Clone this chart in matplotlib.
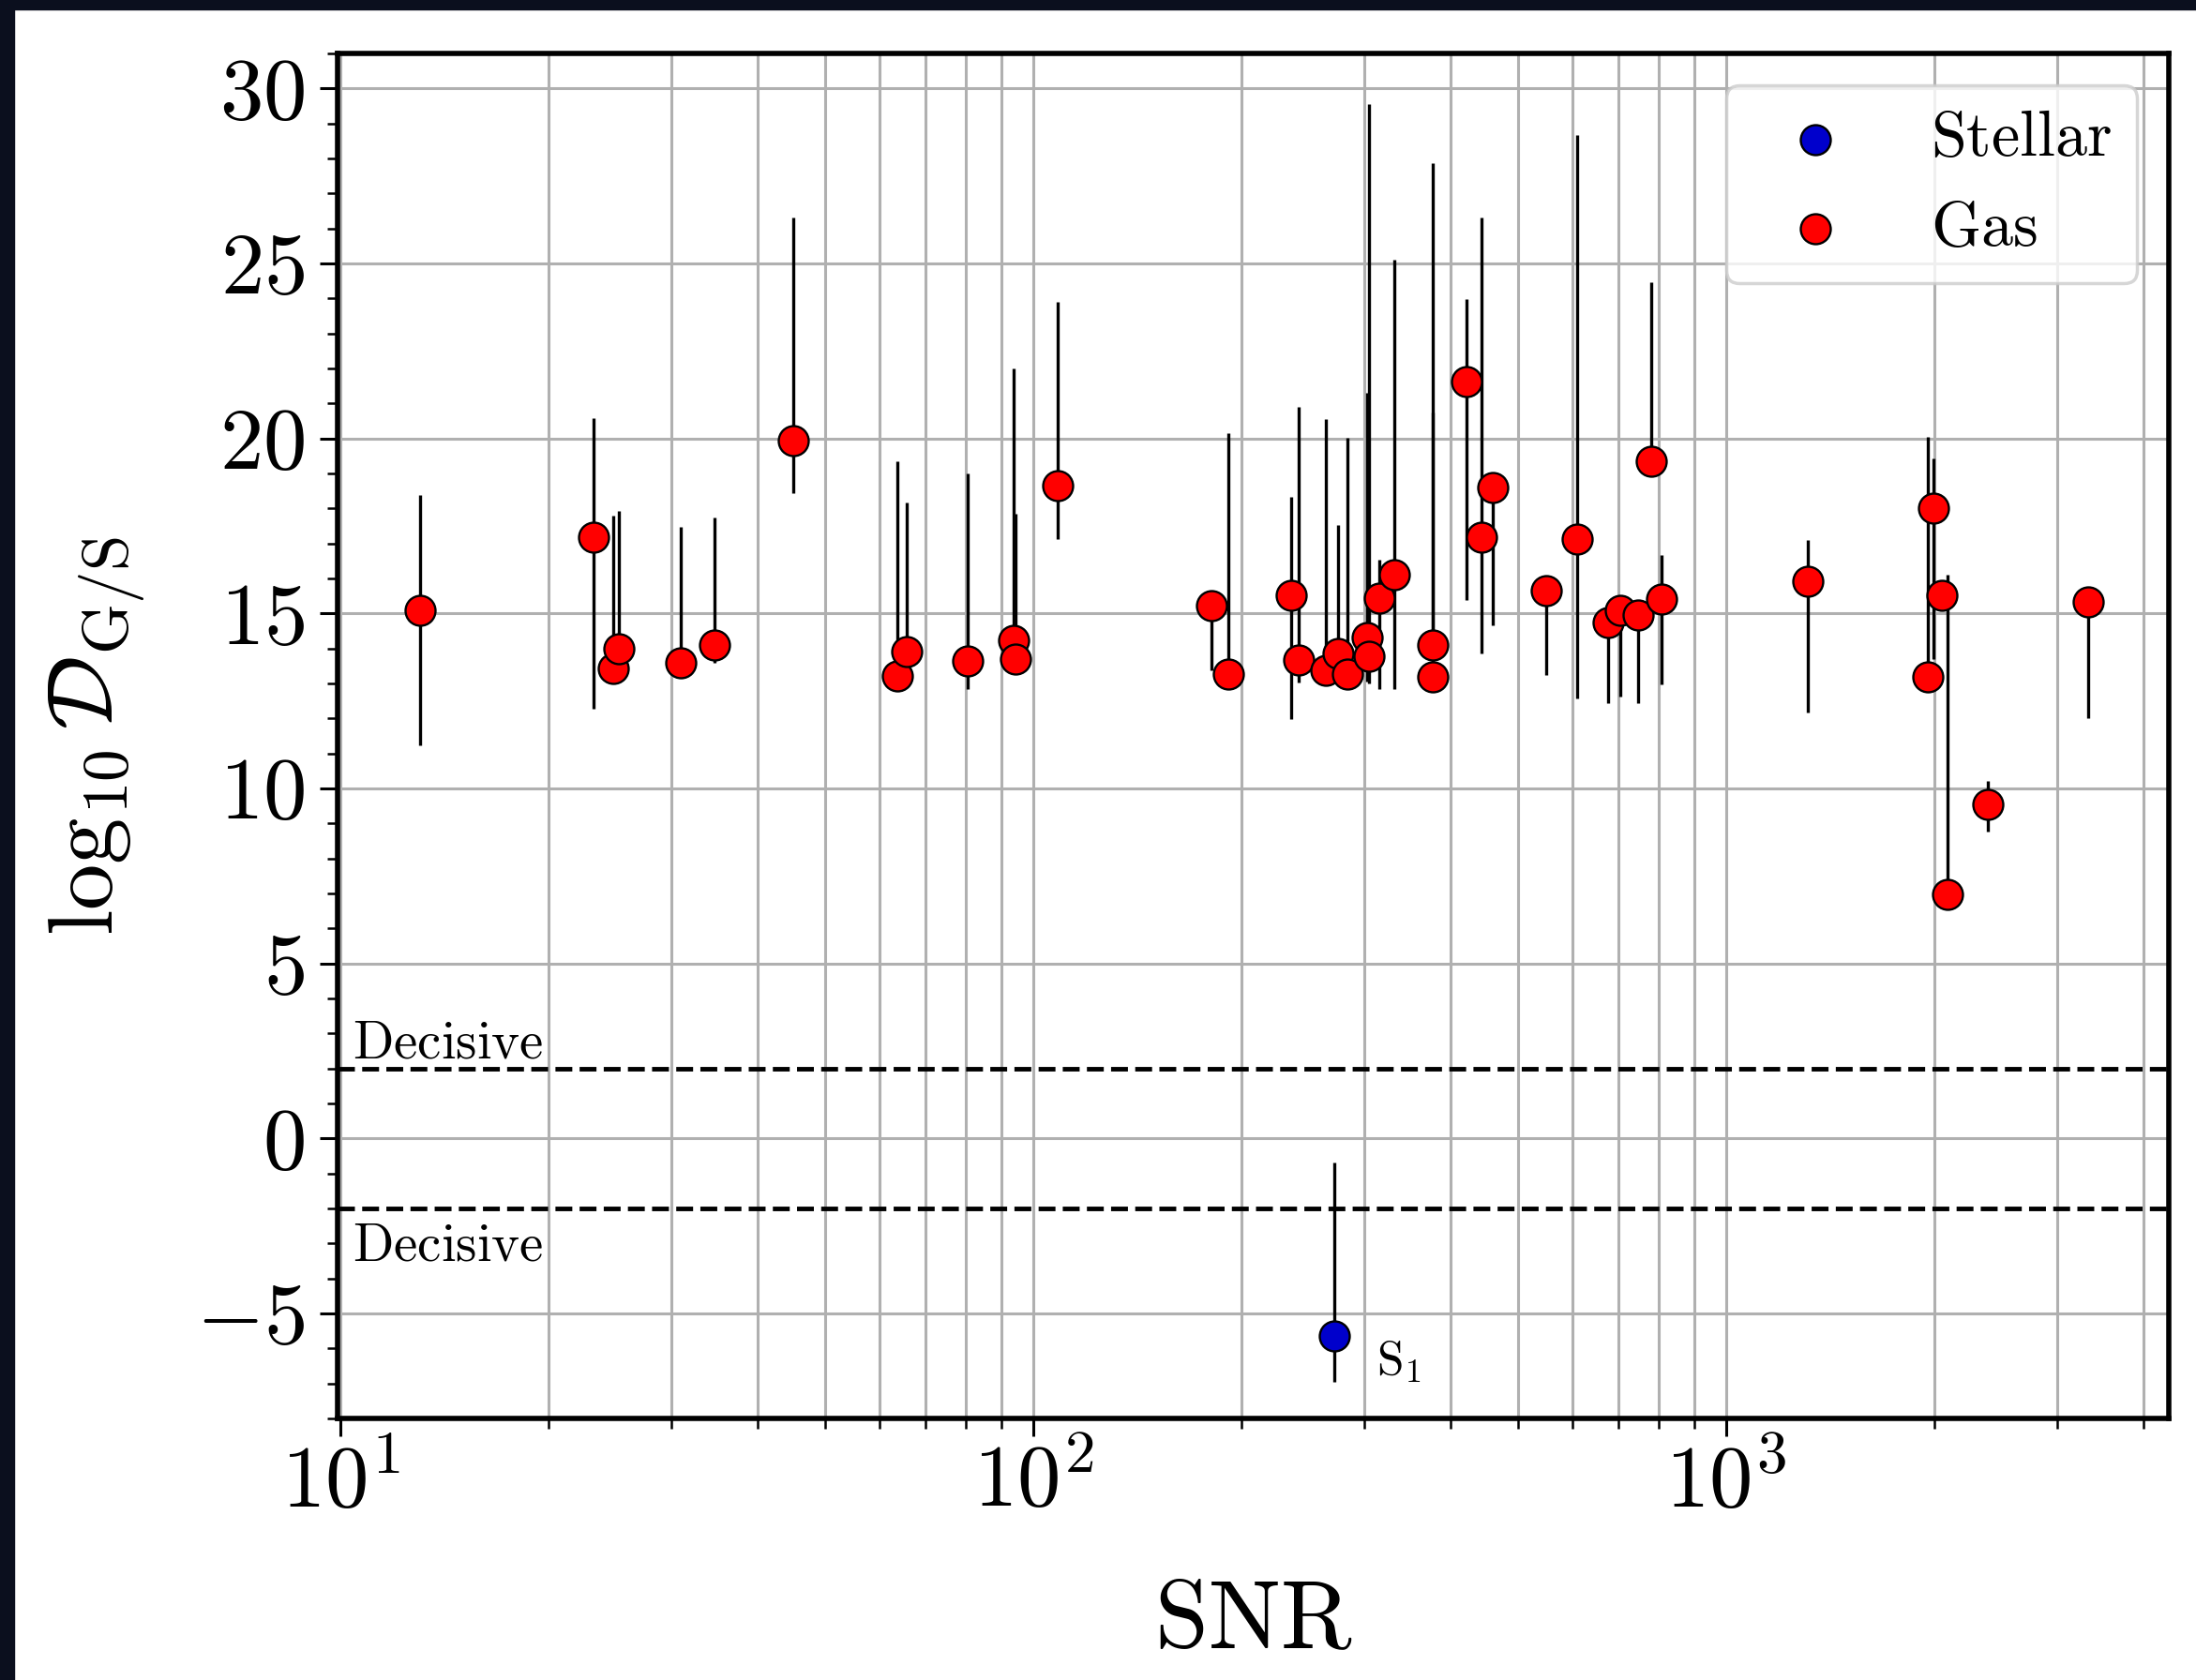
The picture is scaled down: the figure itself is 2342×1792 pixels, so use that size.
import numpy as np
import matplotlib
matplotlib.use("Agg")
import matplotlib.pyplot as plt
from matplotlib.patches import Rectangle
from matplotlib.ticker import AutoMinorLocator, MultipleLocator

plt.rcParams['mathtext.fontset'] = 'cm'
plt.rcParams['font.family'] = 'serif'
plt.rcParams['font.serif'] = ['cmr10']
plt.rcParams['axes.formatter.use_mathtext'] = True

# gas sources: SNR, log10 D_G/S and asymmetric errors
gas_snr = [13.03, 23.2, 24.77, 25.27, 31.04, 34.67, 45.1, 63.7, 65.7, 80.4,
           93.6, 94.4, 108.5, 180.6, 191.0, 235.6, 241.3, 264.6, 275.3, 284.2,
           302.9, 305.3, 316.2, 331.6, 377.2, 377.2, 421.6, 443.6, 460.1, 549.7,
           609.5, 675.9, 703.4, 747.0, 779.8, 807.6, 1311.6, 1954, 1993, 2046,
           2084, 2385, 3327]
gas_logd = [15.10, 17.18, 13.43, 13.99, 13.59, 14.10, 19.95, 13.22, 13.91, 13.64,
            14.22, 13.69, 18.64, 15.21, 13.28, 15.51, 13.67, 13.37, 13.86, 13.26,
            14.31, 13.78, 15.45, 16.10, 14.11, 13.19, 21.62, 17.19, 18.59, 15.64,
            17.13, 14.74, 15.08, 14.96, 19.34, 15.41, 15.91, 13.19, 18.00, 15.52,
            6.97, 9.55, 15.34]
gas_err_lo = [3.88, 4.90, 0.30, 0.30, 0.30, 0.50, 1.50, 0.35, 0.30, 0.81,
              0.30, 0.30, 1.52, 1.84, 0.30, 3.52, 0.65, 0.30, 0.30, 0.30,
              1.25, 0.78, 2.61, 3.26, 0.30, 0.30, 6.24, 3.34, 3.93, 2.39,
              4.56, 2.31, 2.45, 2.51, 0.30, 2.45, 3.74, 0.30, 4.30, 0.30,
              0.30, 0.77, 3.34]
gas_err_hi = [3.28, 3.41, 4.36, 3.94, 3.87, 3.65, 6.37, 6.12, 4.26, 5.36,
              7.77, 4.15, 5.26, 0.30, 6.88, 2.82, 7.22, 7.19, 3.66, 6.76,
              6.99, 15.77, 1.09, 9.01, 13.75, 7.56, 2.37, 9.12, 0.30, 0.30,
              11.55, 0.30, 0.30, 0.30, 5.12, 1.25, 1.20, 6.85, 1.44, 0.30,
              9.14, 0.66, 0.30]

# stellar source
star_snr = [272.0]
star_logd = [-5.64]
star_err_lo = [1.31]
star_err_hi = [4.96]
star_names = ['S_1']

decisive_level = 2

fig = plt.figure(figsize=(23.42, 17.92), dpi=100)
ax = fig.add_axes([0.1537, 0.1557, 0.8339, 0.8125])

# dark screenshot border on top and left
fig.add_artist(Rectangle((0, 1 - 10 / 1792), 1, 10 / 1792, transform=fig.transFigure,
                         color='#0b0f1e', zorder=10))
fig.add_artist(Rectangle((0, 0), 15 / 2342, 1, transform=fig.transFigure,
                         color='#0b0f1e', zorder=10))

ax.errorbar(gas_snr, gas_logd, yerr=[gas_err_lo, gas_err_hi], fmt='none',
            ecolor='black', elinewidth=2.4, zorder=2)
ax.errorbar(star_snr, star_logd, yerr=[star_err_lo, star_err_hi], fmt='none',
            ecolor='black', elinewidth=2.4, zorder=2)
ax.scatter(star_snr, star_logd, s=530, c='#0000cc', edgecolors='black',
           linewidths=1.7, zorder=3, label=r'$\mathrm{Stellar}$')
ax.scatter(gas_snr, gas_logd, s=530, c='#ff0000', edgecolors='black',
           linewidths=1.7, zorder=3, label=r'$\mathrm{Gas}$')

for sx, sy, name in zip(star_snr, star_logd, star_names):
    ax.text(sx * 1.15, sy - 1.1, r'$\mathrm{%s}$' % name, fontsize=37, va='baseline')

ax.axhline(decisive_level, color='black', ls='--', lw=3.5, zorder=2)
ax.axhline(-decisive_level, color='black', ls='--', lw=3.5, zorder=2)
ax.text(10.4, decisive_level + 0.3, r'$\mathrm{Decisive}$', fontsize=41, va='baseline')
ax.text(10.4, -decisive_level - 0.4, r'$\mathrm{Decisive}$', fontsize=41, va='top')

ax.set_xscale('log')
ax.set_xlim(9.907, 4352)
ax.set_ylim(-8, 31)
ax.yaxis.set_major_locator(MultipleLocator(5))
ax.yaxis.set_minor_locator(AutoMinorLocator(5))

ax.set_axisbelow(True)
ax.grid(True, which='both', axis='x', color='#b0b0b0', lw=2.2)
ax.grid(True, which='major', axis='y', color='#b0b0b0', lw=2.2)

for sp in ax.spines.values():
    sp.set_linewidth(4.0)
ax.tick_params(which='major', length=14, width=2.2, labelsize=67)
ax.tick_params(which='minor', length=8, width=1.8)
ax.tick_params(axis='y', which='major', pad=11)
ax.tick_params(axis='x', which='major', pad=5)

ax.set_xlabel(r'$\mathrm{SNR}$', fontsize=74, labelpad=43)
ax.set_ylabel(r'$\log_{10}\mathcal{D}_{\rm G/S}$', fontsize=71, labelpad=37)

leg = ax.legend(loc='upper right', fontsize=49, markerscale=1.0)
leg.get_frame().set_linewidth(2.5)

fig.savefig('out.png', dpi=100)
